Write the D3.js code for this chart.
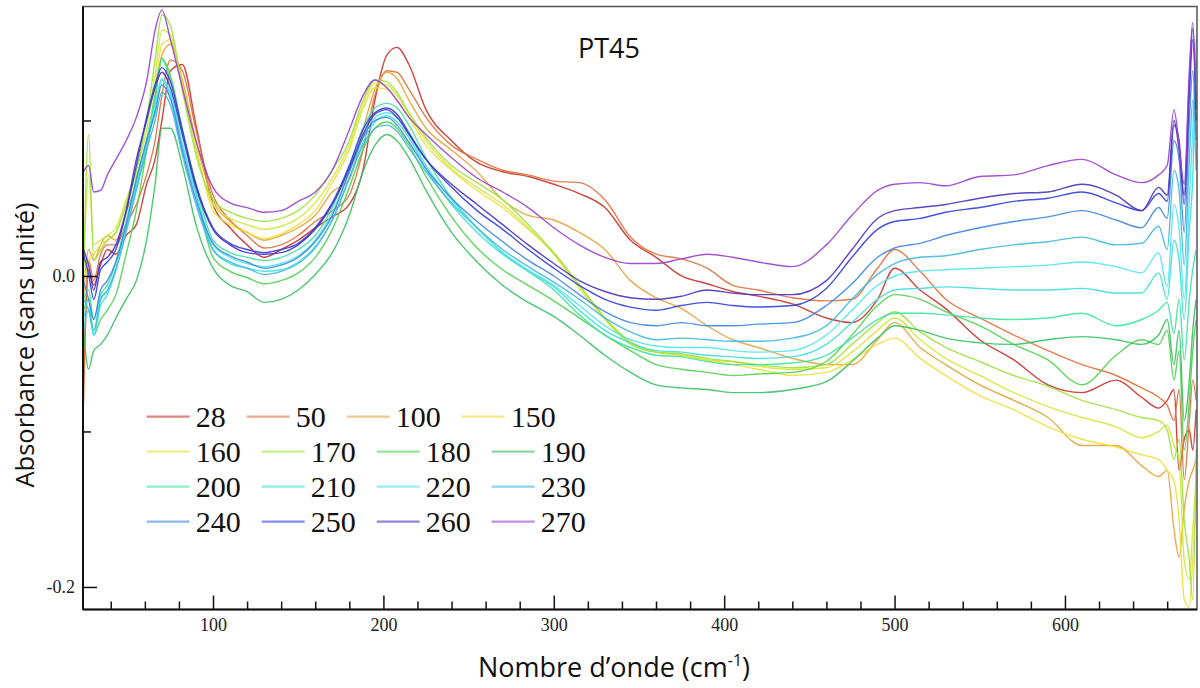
<!DOCTYPE html>
<html><head><meta charset="utf-8">
<script src="https://cdn.jsdelivr.net/npm/d3@7"></script>
<style>html,body{margin:0;padding:0;background:#fff;} svg{display:block;}</style>
</head><body><svg id="chart" width="1200" height="688"></svg>
<script>
// ---------- DATA ----------
const wavenumber = [24,27,30,34,38,43,49,55,61,66,70,75,82,90,100,110,120,130,140,150,160,170,180,188,195,202,208,215,225,240,255,270,285,300,315,330,345,360,375,390,405,420,440,460,475,490,500,515,530,550,570,590,610,630,645,655,660,664,667,670,673,675,677];

const a28  = [-0.067,0.004,-0.006,0.007,0.017,0.014,0.026,0.033,0.059,0.075,0.100,0.132,0.136,0.097,0.046,0.031,0.020,0.012,0.017,0.023,0.031,0.038,0.046,0.068,0.113,0.142,0.147,0.136,0.107,0.087,0.073,0.067,0.064,0.059,0.053,0.044,0.023,0.012,0.000,-0.005,-0.010,-0.013,-0.018,-0.027,-0.030,-0.015,0.005,-0.009,-0.021,-0.041,-0.054,-0.070,-0.075,-0.067,-0.078,-0.085,-0.080,-0.073,-0.125,-0.105,-0.099,-0.112,-0.086];
const a50  = [-0.083,0.010,-0.003,0.014,0.020,0.020,0.033,0.046,0.065,0.087,0.116,0.139,0.132,0.094,0.052,0.036,0.026,0.018,0.020,0.026,0.035,0.042,0.052,0.081,0.116,0.132,0.131,0.120,0.102,0.084,0.075,0.068,0.065,0.061,0.060,0.049,0.025,0.014,0.011,0.005,-0.006,-0.009,-0.014,-0.016,-0.015,0.005,0.017,0.003,-0.015,-0.027,-0.038,-0.048,-0.057,-0.064,-0.072,-0.078,-0.083,-0.093,-0.073,-0.131,-0.093,-0.067,-0.080];
const a100 = [-0.015,0.017,0.010,0.020,0.026,0.023,0.041,0.059,0.081,0.113,0.142,0.149,0.126,0.087,0.049,0.035,0.028,0.023,0.026,0.031,0.039,0.054,0.062,0.094,0.120,0.131,0.127,0.113,0.095,0.081,0.067,0.049,0.039,0.036,0.028,0.017,-0.003,-0.014,-0.021,-0.032,-0.041,-0.046,-0.053,-0.057,-0.057,-0.041,-0.030,-0.046,-0.057,-0.070,-0.080,-0.091,-0.109,-0.109,-0.122,-0.129,-0.125,-0.163,-0.181,-0.150,-0.131,-0.125,-0.118];
const a150 = [-0.009,0.010,0.014,0.020,0.023,0.028,0.046,0.065,0.087,0.120,0.149,0.152,0.123,0.084,0.042,0.033,0.028,0.024,0.027,0.033,0.042,0.060,0.081,0.107,0.121,0.120,0.113,0.102,0.084,0.068,0.055,0.044,0.030,0.015,-0.006,-0.027,-0.042,-0.049,-0.051,-0.054,-0.057,-0.060,-0.064,-0.062,-0.054,-0.044,-0.040,-0.053,-0.064,-0.077,-0.086,-0.097,-0.105,-0.110,-0.115,-0.118,-0.125,-0.132,-0.157,-0.208,-0.213,-0.183,-0.144];
const a160 = [0.004,0.065,0.020,0.023,0.026,0.031,0.049,0.068,0.094,0.129,0.158,0.155,0.120,0.081,0.046,0.037,0.033,0.030,0.032,0.037,0.047,0.063,0.084,0.110,0.124,0.123,0.116,0.104,0.087,0.069,0.057,0.046,0.031,0.014,-0.008,-0.028,-0.044,-0.049,-0.051,-0.054,-0.055,-0.058,-0.060,-0.059,-0.049,-0.035,-0.027,-0.041,-0.053,-0.064,-0.075,-0.084,-0.091,-0.097,-0.104,-0.100,-0.096,-0.109,-0.118,-0.183,-0.195,-0.163,-0.131];
const a170 = [-0.003,0.091,0.010,0.017,0.023,0.028,0.046,0.068,0.100,0.139,0.168,0.161,0.120,0.078,0.049,0.041,0.037,0.035,0.037,0.042,0.052,0.068,0.087,0.113,0.126,0.125,0.118,0.105,0.089,0.071,0.060,0.049,0.033,0.015,-0.006,-0.027,-0.043,-0.049,-0.050,-0.053,-0.055,-0.057,-0.059,-0.057,-0.044,-0.030,-0.023,-0.036,-0.046,-0.055,-0.064,-0.071,-0.080,-0.086,-0.091,-0.093,-0.099,-0.118,-0.105,-0.157,-0.183,-0.208,-0.112];
const a180 = [-0.022,-0.015,-0.038,-0.028,-0.022,-0.012,0.014,0.042,0.081,0.116,0.140,0.129,0.094,0.055,0.012,0.003,-0.001,-0.005,-0.003,0.002,0.012,0.030,0.057,0.081,0.095,0.099,0.095,0.084,0.064,0.038,0.018,0.004,-0.006,-0.016,-0.027,-0.038,-0.048,-0.057,-0.060,-0.062,-0.064,-0.063,-0.062,-0.055,-0.038,-0.019,-0.012,-0.015,-0.023,-0.032,-0.044,-0.054,-0.070,-0.051,-0.041,-0.044,-0.035,-0.067,-0.048,-0.112,-0.080,-0.048,-0.028];
const a190 = [-0.035,-0.060,-0.048,-0.044,-0.038,-0.027,-0.015,-0.003,0.023,0.059,0.095,0.095,0.071,0.033,0.005,-0.006,-0.010,-0.017,-0.015,-0.009,0.001,0.015,0.039,0.067,0.084,0.091,0.087,0.076,0.055,0.028,0.009,-0.006,-0.017,-0.026,-0.038,-0.051,-0.062,-0.070,-0.072,-0.073,-0.075,-0.075,-0.073,-0.068,-0.055,-0.040,-0.032,-0.035,-0.040,-0.043,-0.044,-0.041,-0.039,-0.041,-0.044,-0.038,-0.028,-0.057,-0.035,-0.093,-0.067,-0.035,-0.015];
const a200 = [-0.015,-0.009,-0.028,-0.012,-0.006,0.009,0.035,0.062,0.087,0.116,0.139,0.126,0.094,0.059,0.023,0.015,0.012,0.010,0.012,0.017,0.026,0.044,0.071,0.095,0.108,0.111,0.108,0.097,0.076,0.050,0.031,0.015,0.003,-0.009,-0.025,-0.038,-0.046,-0.051,-0.052,-0.055,-0.057,-0.057,-0.056,-0.051,-0.040,-0.028,-0.024,-0.024,-0.025,-0.027,-0.028,-0.027,-0.024,-0.032,-0.028,-0.022,-0.017,-0.037,-0.015,-0.054,-0.015,0.004,0.017];
const a210 = [-0.035,-0.022,-0.038,-0.019,-0.012,0.004,0.030,0.057,0.084,0.107,0.126,0.116,0.084,0.052,0.017,0.008,0.005,0.003,0.004,0.009,0.019,0.036,0.063,0.086,0.099,0.103,0.099,0.089,0.069,0.046,0.028,0.014,0.003,-0.007,-0.022,-0.035,-0.043,-0.048,-0.049,-0.051,-0.052,-0.053,-0.052,-0.044,-0.030,-0.015,-0.009,-0.008,-0.007,-0.008,-0.009,-0.009,-0.008,-0.011,-0.011,0.002,-0.015,0.023,0.010,-0.028,0.030,0.062,0.139];
const a220 = [-0.028,-0.015,-0.038,-0.015,-0.010,0.005,0.031,0.059,0.087,0.110,0.127,0.118,0.086,0.054,0.020,0.012,0.008,0.006,0.008,0.013,0.023,0.041,0.067,0.089,0.102,0.105,0.102,0.091,0.071,0.049,0.031,0.015,0.004,-0.006,-0.019,-0.032,-0.041,-0.045,-0.046,-0.046,-0.048,-0.049,-0.048,-0.038,-0.022,-0.006,0.000,0.003,0.004,0.005,0.006,0.007,0.009,0.006,0.002,0.015,-0.007,0.046,0.030,-0.015,0.049,0.094,0.152];
const a230 = [-0.015,-0.022,-0.035,-0.015,-0.009,0.004,0.028,0.055,0.081,0.100,0.118,0.110,0.078,0.046,0.017,0.009,0.005,0.001,0.003,0.008,0.018,0.036,0.063,0.084,0.095,0.097,0.093,0.082,0.067,0.047,0.031,0.017,0.006,-0.004,-0.015,-0.027,-0.036,-0.041,-0.040,-0.041,-0.042,-0.042,-0.040,-0.032,-0.015,0.001,0.008,0.012,0.013,0.017,0.020,0.022,0.025,0.020,0.021,0.032,0.017,0.068,0.055,0.007,0.075,0.113,0.068];
const a240 = [-0.003,-0.015,-0.028,-0.009,-0.003,0.009,0.033,0.062,0.087,0.105,0.123,0.114,0.081,0.049,0.021,0.013,0.009,0.005,0.007,0.012,0.022,0.039,0.067,0.089,0.100,0.102,0.097,0.086,0.069,0.050,0.035,0.022,0.010,0.000,-0.012,-0.023,-0.030,-0.032,-0.030,-0.032,-0.032,-0.031,-0.030,-0.019,-0.005,0.012,0.018,0.021,0.026,0.031,0.035,0.038,0.042,0.036,0.031,0.044,0.037,0.087,0.075,0.028,0.100,0.132,0.087];
const a250 = [0.014,0.001,-0.015,0.004,0.009,0.017,0.041,0.071,0.102,0.123,0.134,0.125,0.094,0.059,0.031,0.021,0.017,0.015,0.017,0.021,0.031,0.047,0.071,0.094,0.105,0.108,0.104,0.092,0.075,0.057,0.042,0.030,0.017,0.005,-0.006,-0.015,-0.020,-0.022,-0.019,-0.017,-0.019,-0.020,-0.019,-0.008,0.012,0.030,0.035,0.037,0.041,0.044,0.048,0.050,0.054,0.047,0.042,0.053,0.048,0.097,0.087,0.046,0.116,0.152,0.100];
const a260 = [0.017,0.007,-0.009,0.009,0.012,0.020,0.042,0.075,0.100,0.121,0.131,0.121,0.091,0.057,0.030,0.020,0.015,0.014,0.015,0.020,0.030,0.046,0.069,0.091,0.104,0.107,0.102,0.091,0.075,0.059,0.046,0.033,0.020,0.008,-0.003,-0.010,-0.014,-0.015,-0.013,-0.009,-0.011,-0.012,-0.012,-0.003,0.017,0.037,0.042,0.044,0.046,0.050,0.053,0.054,0.059,0.052,0.042,0.057,0.052,0.100,0.081,0.052,0.126,0.159,0.107];
const a270 = [0.067,0.071,0.054,0.055,0.065,0.075,0.087,0.102,0.125,0.158,0.171,0.152,0.121,0.087,0.057,0.047,0.044,0.041,0.042,0.048,0.054,0.068,0.094,0.116,0.126,0.121,0.113,0.102,0.091,0.076,0.063,0.054,0.044,0.031,0.020,0.012,0.008,0.008,0.011,0.014,0.012,0.009,0.006,0.020,0.039,0.055,0.059,0.060,0.058,0.064,0.065,0.071,0.075,0.065,0.060,0.065,0.071,0.107,0.084,0.059,0.132,0.163,0.113];

const seriesLabels = ["28","50","100","150","160","170","180","190","200","210","220","230","240","250","260","270"];
const seriesValues = [a28,a50,a100,a150,a160,a170,a180,a190,a200,a210,a220,a230,a240,a250,a260,a270];

const xMajorTicks = [100,200,300,400,500,600];
const yMajorTicks = [0.0,-0.2];
const yMinorTicks = [0.1,-0.1];
const chartTitle = "PT45";
const xTitle = "Nombre d\u2019onde (cm";
const xTitleSup = "-1";
const yTitle = "Absorbance (sans unit\u00e9)";

// ---------- STYLE ----------
const colors = ["#c8322a","#e0703a","#e3a33a","#f0de3a","#d4e63a","#9ee23e","#4fd24f","#38c060",
                "#3fe3a0","#3edfd8","#4ee6f0","#3fb8e0","#3f88e0","#2e3fe0","#4a30c0","#9a3fd0"];

const svg = d3.select("#chart");
const P = {left:83, right:1197, top:6.5, bottom:609.5};
const x = d3.scaleLinear().domain([23.7,677.5]).range([P.left,P.right]);
const y = d3.scaleLinear().domain([-0.2145,0.1733]).range([P.bottom,P.top]);

svg.append("defs").append("clipPath").attr("id","clip")
  .append("rect").attr("x",P.left).attr("y",P.top).attr("width",P.right-P.left).attr("height",P.bottom-P.top);

// lines
const line = d3.line().x((d,i)=>x(wavenumber[i])).y(d=>y(d)).curve(d3.curveMonotoneX);
const g = svg.append("g").attr("clip-path","url(#clip)");
seriesValues.forEach((vals,k)=>{
  g.append("path").datum(vals).attr("d",line)
    .attr("fill","none").attr("stroke",colors[k]).attr("stroke-width",1.4)
    .attr("stroke-opacity",0.9).attr("stroke-linejoin","round");
});

// frame
svg.append("rect").attr("x",P.left).attr("y",P.top).attr("width",P.right-P.left).attr("height",P.bottom-P.top)
  .attr("fill","none").attr("stroke","#555").attr("stroke-width",1.5);

// x axis
const xMinor = d3.range(40,677,20).filter(v=>v%100!==0);
const xAxisMajor = d3.axisBottom(x).tickValues(xMajorTicks).tickSize(-14).tickPadding(9).tickFormat(d3.format("d"));
const xAxisMinor = d3.axisBottom(x).tickValues(xMinor).tickSize(-8).tickFormat("");
const gx1 = svg.append("g").attr("transform",`translate(0,${P.bottom})`).call(xAxisMajor);
const gx2 = svg.append("g").attr("transform",`translate(0,${P.bottom})`).call(xAxisMinor);
[gx1,gx2].forEach(gg=>{gg.select(".domain").remove(); gg.selectAll("line").attr("stroke","#111").attr("stroke-width",1.5);});
gx1.selectAll("text").attr("font-family","'Liberation Serif','Times New Roman',serif").attr("font-size",18).attr("fill","#222");

// y axis
const yAxisMajor = d3.axisLeft(y).tickValues(yMajorTicks).tickSize(-14).tickPadding(8).tickFormat(d=>d.toFixed(1));
const yAxisMinor = d3.axisLeft(y).tickValues(yMinorTicks).tickSize(-8).tickFormat("");
const gy1 = svg.append("g").attr("transform",`translate(${P.left},0)`).call(yAxisMajor);
const gy2 = svg.append("g").attr("transform",`translate(${P.left},0)`).call(yAxisMinor);
[gy1,gy2].forEach(gg=>{gg.select(".domain").remove(); gg.selectAll("line").attr("stroke","#111").attr("stroke-width",1.5);});
gy1.selectAll("text").attr("font-family","'Liberation Serif','Times New Roman',serif").attr("font-size",18).attr("fill","#222");

// left & bottom axis lines
svg.append("line").attr("x1",P.left).attr("x2",P.left).attr("y1",P.top).attr("y2",P.bottom).attr("stroke","#111").attr("stroke-width",2);
svg.append("line").attr("x1",P.left).attr("x2",P.right).attr("y1",P.bottom).attr("y2",P.bottom).attr("stroke","#111").attr("stroke-width",2);

// title
svg.append("text").attr("x",578).attr("y",58).attr("font-family","'Open Sans',sans-serif")
  .attr("font-size",27).attr("fill","#111").text(chartTitle);

// axis titles
const xt = svg.append("text").attr("x",614).attr("y",677).attr("text-anchor","middle")
  .attr("font-family","'Open Sans',sans-serif").attr("font-size",27).attr("fill","#111");
xt.append("tspan").text(xTitle);
xt.append("tspan").attr("dy",-11).attr("font-size",16).text(xTitleSup);
xt.append("tspan").attr("dy",11).text(")");

svg.append("text").attr("transform","translate(34,345) rotate(-90)").attr("text-anchor","middle")
  .attr("font-family","'Open Sans',sans-serif").attr("font-size",25.5).attr("fill","#111").text(yTitle);

// legend (flow layout, 4 per row)
const lg = svg.append("g");
const perRow = 4, rowH = 35, x0 = 146.7, y0 = 416.7, lineLen = 43, gap1 = 6, gap2 = 21;
for (let r=0; r<Math.ceil(seriesLabels.length/perRow); r++){
  let cx = x0;
  const cy = y0 + r*rowH;
  for (let c=0; c<perRow; c++){
    const k = r*perRow + c;
    if (k>=seriesLabels.length) break;
    lg.append("line").attr("x1",cx).attr("x2",cx+lineLen).attr("y1",cy).attr("y2",cy)
      .attr("stroke",colors[k]).attr("stroke-width",2.2).attr("stroke-opacity",0.6);
    const t = lg.append("text").attr("x",cx+lineLen+gap1).attr("y",cy+10)
      .attr("font-family","'Liberation Serif','Times New Roman',serif").attr("font-size",30).attr("fill","#111")
      .text(seriesLabels[k]);
    cx += lineLen + gap1 + t.node().getComputedTextLength() + gap2;
  }
}
</script></body></html>
